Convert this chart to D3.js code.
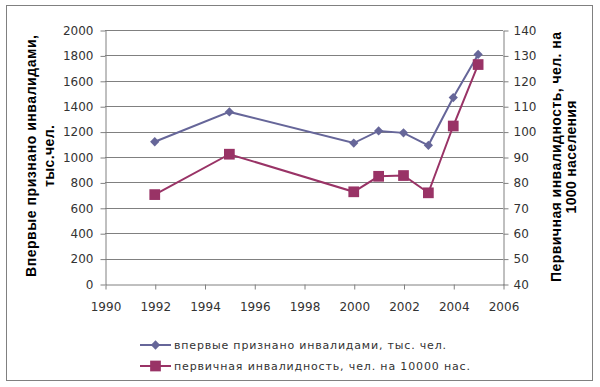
<!DOCTYPE html>
<html>
<head>
<meta charset="utf-8">
<script src="https://cdn.jsdelivr.net/npm/d3@7"></script>
<style>
  body { margin: 0; background: #fff; }
  svg text { font-family: "DejaVu Sans", Verdana, sans-serif; }
</style>
</head>
<body>
<div id="chart"></div>
<script>
// data
const years = [1992, 1995, 2000, 2001, 2002, 2003, 2004, 2005];
const firstTime = [1120, 1355, 1110, 1205, 1190, 1092, 1468, 1808];   // тыс. чел.
const primaryRate = [75.2, 91.1, 76.3, 82.4, 82.7, 75.9, 102.2, 126.4]; // чел. на 10000 нас.

const xTicks = [1990, 1992, 1994, 1996, 1998, 2000, 2002, 2004, 2006];
const leftTicks = [0, 200, 400, 600, 800, 1000, 1200, 1400, 1600, 1800, 2000];
const rightTicks = [40, 50, 60, 70, 80, 90, 100, 110, 120, 130, 140];

const seriesNames = [
  "впервые признано инвалидами, тыс. чел.",
  "первичная инвалидность, чел. на 10000 нас."
];
const leftTitle = ["Впервые признано инвалидами,", "тыс.чел."];
const rightTitle = ["Первичная инвалидность, чел. на", "1000 населения"];

const BLUE = "#666699", RED = "#993366";
const W = 600, H = 387;
const margin = { top: 30, right: 97, bottom: 103, left: 105 };

const svg = d3.select("#chart").append("svg")
  .attr("width", W).attr("height", H);

// outer frame
svg.append("rect")
  .attr("x", 6.5).attr("y", 5.5)
  .attr("width", 586).attr("height", 375)
  .attr("fill", "#fff").attr("stroke", "#808080").attr("stroke-width", 1);

const x = d3.scaleLinear().domain([1990, 2006]).range([margin.left, W - margin.right]);
const yL = d3.scaleLinear().domain([0, 2000]).range([H - margin.bottom, margin.top]);
const yR = d3.scaleLinear().domain([40, 140]).range([H - margin.bottom, margin.top]);

// gridlines
svg.append("g").selectAll("line")
  .data(leftTicks.slice(1))
  .join("line")
  .attr("x1", margin.left).attr("x2", W - margin.right)
  .attr("y1", d => Math.round(yL(d)) + 0.5).attr("y2", d => Math.round(yL(d)) + 0.5)
  .attr("stroke", "#808080");

function styleAxis(g) {
  g.select(".domain").attr("stroke", "#808080");
  g.selectAll(".tick line").attr("stroke", "#808080");
  g.selectAll(".tick text").attr("fill", "#333").attr("font-size", "12px")
    .attr("font-family", "DejaVu Sans, sans-serif");
}

// left axis
svg.append("g")
  .attr("transform", `translate(${margin.left + 0.5},0.5)`)
  .call(d3.axisLeft(yL).tickValues(leftTicks).tickFormat(d3.format("d"))
    .tickSize(5).tickPadding(7).tickSizeOuter(0))
  .call(styleAxis);

// right axis
svg.append("g")
  .attr("transform", `translate(${W - margin.right + 0.5},0.5)`)
  .call(d3.axisRight(yR).tickValues(rightTicks).tickSize(5).tickPadding(5).tickSizeOuter(0))
  .call(styleAxis);

// bottom axis
svg.append("g")
  .attr("transform", `translate(0.5,${H - margin.bottom + 0.5})`)
  .call(d3.axisBottom(x).tickValues(xTicks).tickFormat(d3.format("d"))
    .tickSize(5).tickPadding(13).tickSizeOuter(0))
  .call(styleAxis);

// axis titles (bold, widely spaced like the original)
function axisTitle(lines, xs, lens, cy) {
  lines.forEach((t, i) => {
    svg.append("text")
      .attr("transform", `translate(${xs[i]},${cy}) rotate(-90)`)
      .attr("text-anchor", "middle")
      .style("font-family", "'Liberation Sans', Arial, sans-serif")
      .attr("font-weight", "bold")
      .attr("font-size", "14px")
      .attr("textLength", lens[i])
      .attr("lengthAdjust", "spacing")
      .attr("fill", "#000")
      .text(t);
  });
}
axisTitle(leftTitle, [36, 54], [242, 62], 156);
axisTitle(rightTitle, [561, 576], [250, 113], 157);

// series
const blueData = years.map((yr, i) => ({ yr, v: firstTime[i] }));
const redData = years.map((yr, i) => ({ yr, v: primaryRate[i] }));

svg.append("path")
  .datum(blueData)
  .attr("fill", "none").attr("stroke", BLUE).attr("stroke-width", 2)
  .attr("d", d3.line().x(d => x(d.yr)).y(d => yL(d.v)));

svg.append("path")
  .datum(redData)
  .attr("fill", "none").attr("stroke", RED).attr("stroke-width", 2)
  .attr("d", d3.line().x(d => x(d.yr)).y(d => yR(d.v)));

const diamond = d3.symbol().type(d3.symbolDiamond2).size(55);
const square = d3.symbol().type(d3.symbolSquare).size(115);

svg.append("g").selectAll("path")
  .data(blueData).join("path")
  .attr("transform", d => `translate(${x(d.yr)},${yL(d.v)})`)
  .attr("d", diamond).attr("fill", BLUE);

svg.append("g").selectAll("path")
  .data(redData).join("path")
  .attr("transform", d => `translate(${x(d.yr)},${yR(d.v)})`)
  .attr("d", square).attr("fill", RED);

// legend
const legend = svg.append("g").attr("transform", "translate(140,0)");
const legendLens = [272, 296];
[[BLUE, diamond, 345], [RED, square, 366]].forEach(([c, sym, ly], i) => {
  legend.append("line").attr("x1", 0).attr("x2", 31)
    .attr("y1", ly).attr("y2", ly).attr("stroke", c).attr("stroke-width", 2);
  legend.append("path").attr("transform", `translate(15.5,${ly})`).attr("d", sym).attr("fill", c);
  legend.append("text")
    .attr("x", 34).attr("y", ly + 4)
    .attr("font-size", "11px")
    .attr("textLength", legendLens[i]).attr("lengthAdjust", "spacing")
    .attr("fill", "#333")
    .text(seriesNames[i]);
});
</script>
</body>
</html>
